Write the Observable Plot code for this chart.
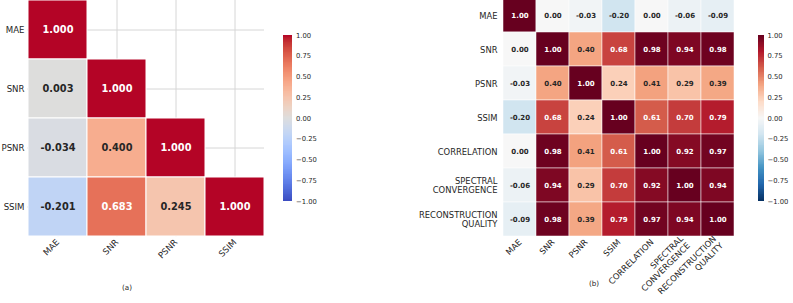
<!DOCTYPE html>
<html><head><meta charset="utf-8">
<script src="https://cdn.jsdelivr.net/npm/d3@7"></script>
<script src="https://cdn.jsdelivr.net/npm/@observablehq/plot@0.6"></script>
<style>
body{margin:0;background:#fff}
#root{position:relative;width:793px;height:303px;overflow:hidden;font-family:"DejaVu Sans",sans-serif;background:#fff}
.abs{position:absolute}
.cap{position:absolute;font-size:7.2px;color:#262626;transform:translate(-50%,-50%);white-space:nowrap}
</style>
</head><body><div id="root"></div>
<script>
// ---- data ----
const metricsA = ["MAE", "SNR", "PSNR", "SSIM"];
const valuesA = [
  [1.000],
  [0.003, 1.000],
  [-0.034, 0.400, 1.000],
  [-0.201, 0.683, 0.245, 1.000]
];
const metricsB = ["MAE", "SNR", "PSNR", "SSIM", "CORRELATION", "SPECTRAL\nCONVERGENCE", "RECONSTRUCTION\nQUALITY"];
const valuesB = [
  [1.00, 0.00, -0.03, -0.20, 0.00, -0.06, -0.09],
  [0.00, 1.00, 0.40, 0.68, 0.98, 0.94, 0.98],
  [-0.03, 0.40, 1.00, 0.24, 0.41, 0.29, 0.39],
  [-0.20, 0.68, 0.24, 1.00, 0.61, 0.70, 0.79],
  [0.00, 0.98, 0.41, 0.61, 1.00, 0.92, 0.97],
  [-0.06, 0.94, 0.29, 0.70, 0.92, 1.00, 0.94],
  [-0.09, 0.98, 0.39, 0.79, 0.97, 0.94, 1.00]
];
const colorbarTicks = [-1, -0.75, -0.5, -0.25, 0, 0.25, 0.5, 0.75, 1];
const captions = ["(a)", "(b)"];

// ---- colormaps ----
const coolwarmStops = [[59,76,192],[68,90,204],[77,104,215],[87,117,225],[98,130,234],[108,142,241],[119,154,247],[130,165,251],[141,176,254],[152,185,255],[163,194,255],[174,201,253],[184,208,249],[194,213,244],[204,217,238],[213,219,230],[221,221,221],[229,216,209],[236,211,197],[241,204,185],[245,196,173],[247,187,160],[247,177,148],[247,166,135],[244,154,123],[241,141,111],[236,127,99],[229,112,88],[222,96,77],[213,80,66],[203,62,56],[192,40,47],[180,4,38]].map(c => d3.rgb(...c).formatHex());
const coolwarm = d3.piecewise(d3.interpolateRgb, coolwarmStops);
const rdbuR = d3.piecewise(d3.interpolateRgb, ["#053061","#2166ac","#4393c3","#92c5de","#d1e5f0","#f7f7f7","#fddbc7","#f4a582","#d6604d","#b2182b","#67001f"]);

function relLum(c) {
  const {r, g, b} = d3.rgb(c);
  const f = v => { v /= 255; return v <= 0.03928 ? v / 12.92 : Math.pow((v + 0.055) / 1.055, 2.4); };
  return 0.2126 * f(r) + 0.7152 * f(g) + 0.0722 * f(b);
}
const isLight = (interp, v) => relLum(interp((v + 1) / 2)) > 0.408;
const fmtAnnot = n => v => v.toFixed(n);

const root = document.getElementById("root");
function place(el, left, top) {
  el.classList.add("abs");
  el.style.left = left + "px";
  el.style.top = top + "px";
  root.appendChild(el);
}

// ---- panel (a) ----
const cellsA = [];
valuesA.forEach((row, i) => row.forEach((v, j) => cellsA.push({row: metricsA[i], col: metricsA[j], v})));

const plotA = Plot.plot({
  width: 280, height: 305,
  marginLeft: 27, marginRight: 16, marginTop: 0, marginBottom: 67.7,
  x: {domain: metricsA, padding: 0, label: null},
  y: {domain: metricsA, padding: 0, label: null},
  color: {type: "linear", domain: [-1, 1], interpolate: coolwarm},
  style: {fontFamily: "DejaVu Sans", fontSize: "8.6px", color: "#262626", background: "transparent"},
  marks: [
    Plot.gridX({stroke: "#d6d6d6", strokeOpacity: 1, strokeWidth: 1}),
    Plot.gridY({stroke: "#d6d6d6", strokeOpacity: 1, strokeWidth: 1}),
    Plot.cell(cellsA, {x: "col", y: "row", fill: "v", stroke: "white", strokeWidth: 1}),
    Plot.text(cellsA.filter(d => isLight(coolwarm, d.v)), {x: "col", y: "row", text: d => fmtAnnot(3)(d.v), fill: "#262626", fontWeight: "bold", fontSize: 9.8}),
    Plot.text(cellsA.filter(d => !isLight(coolwarm, d.v)), {x: "col", y: "row", text: d => fmtAnnot(3)(d.v), fill: "white", fontWeight: "bold", fontSize: 9.8}),
    Plot.axisX({tickSize: 0, tickPadding: 4, tickRotate: -45, label: null}),
    Plot.axisY({tickSize: 0, tickPadding: 3, label: null})
  ]
});
place(plotA, 0, -1.5);

// colorbar (a)
const slices = d3.range(200).map(i => ({y1: -1 + i * 0.01, y2: Math.min(1, -1 + (i + 1) * 0.01 + 0.004), v: -1 + (i + 0.5) * 0.01}));
function colorbar(interp, w, ml, barW) {
  return Plot.plot({
    width: w, height: 303,
    marginLeft: ml, marginRight: w - ml - barW, marginTop: 35, marginBottom: 102,
    x: {domain: [0, 1], axis: null},
    y: {domain: [-1, 1], label: null},
    color: {type: "linear", domain: [-1, 1], interpolate: interp},
    style: {fontFamily: "DejaVu Sans", fontSize: "6.8px", color: "#262626", background: "transparent"},
    marks: [
      Plot.rect(slices, {x1: 0, x2: 1, y1: "y1", y2: "y2", fill: "v", shapeRendering: "crispEdges"}),
      Plot.axisY({anchor: "right", ticks: colorbarTicks, tickFormat: d3.format(".2f"), tickSize: 0, tickPadding: 3.5, label: null})
    ]
  });
}
place(colorbar(coolwarm, 70, 13.3, 8.7), 270, 0);

// ---- panel (b) ----
const cellsB = [];
valuesB.forEach((row, i) => row.forEach((v, j) => cellsB.push({row: metricsB[i], col: metricsB[j], v})));

const plotB = Plot.plot({
  width: 350, height: 305,
  marginLeft: 100, marginRight: 12.3, marginTop: 0, marginBottom: 67,
  x: {domain: metricsB, padding: 0, label: null},
  y: {domain: metricsB, padding: 0, label: null},
  color: {type: "linear", domain: [-1, 1], interpolate: rdbuR},
  style: {fontFamily: "DejaVu Sans", fontSize: "8.4px", color: "#262626", background: "transparent"},
  marks: [
    Plot.cell(cellsB, {x: "col", y: "row", fill: "v", stroke: "white", strokeWidth: 0.6, strokeOpacity: 0.85}),
    Plot.text(cellsB.filter(d => isLight(rdbuR, d.v)), {x: "col", y: "row", text: d => fmtAnnot(2)(d.v), fill: "#262626", fontWeight: "bold", fontSize: 7}),
    Plot.text(cellsB.filter(d => !isLight(rdbuR, d.v)), {x: "col", y: "row", text: d => fmtAnnot(2)(d.v), fill: "white", fontWeight: "bold", fontSize: 7}),
    Plot.axisX({tickSize: 0, tickPadding: 4, tickRotate: -45, label: null, lineHeight: 1.15}),
    Plot.axisY({tickSize: 0, tickPadding: 3, label: null, lineHeight: 1.15})
  ]
});
place(plotB, 400, -2);

place(colorbar(rdbuR, 48, 12.5, 6), 745, 0);

// captions
[[captions[0], 127, 287], [captions[1], 594, 283]].forEach(([t, x, y]) => {
  const d = document.createElement("div");
  d.className = "cap";
  d.textContent = t;
  d.style.left = x + "px";
  d.style.top = y + "px";
  root.appendChild(d);
});
</script>
</body></html>
